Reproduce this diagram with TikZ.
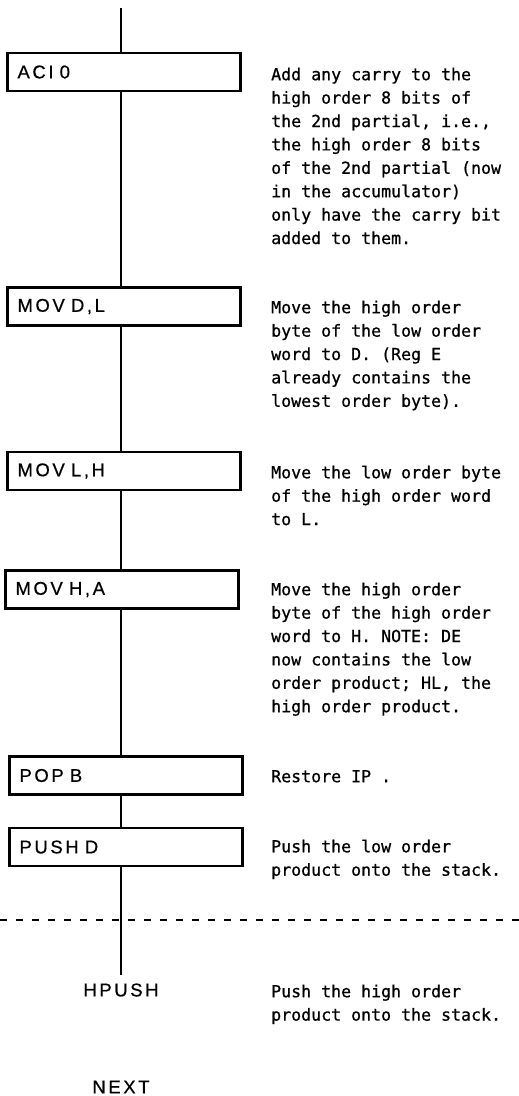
\documentclass[tikz,border=0pt]{standalone}
\usepackage{fontspec}
\newfontfamily\opfont[LetterSpace=14,FakeBold=0.6]{Liberation Sans}
\newfontfamily\notefont[FakeBold=0.8]{DejaVu Sans Mono}
\tikzset{
    opbox/.style={draw, line width=2.2pt, text width=213pt, inner xsep=10pt,
        inner ysep=0pt, minimum height=38pt, align=left,
        font=\opfont\fontsize{18.5}{22}\selectfont},
    oplabel/.style={inner sep=0pt, font=\opfont\fontsize{18.5}{22}\selectfont},
    note/.style={anchor=north west, inner sep=0pt, align=left,
        font=\notefont\fontsize{16.6}{23.4}\selectfont},
    spine/.style={line width=2.2pt},
    cut/.style={line width=1.8pt, dash pattern=on 7pt off 9pt}
}
\begin{document}
\begin{tikzpicture}[x=1pt,y=-1pt]
    \useasboundingbox (0,0) rectangle (519,1096);

    % Instruction boxes
    \node[opbox] (aci)   at (124,72)    {ACI 0};
    \node[opbox] (movdl) at (124,306.5) {MOV D,L};
    \node[opbox] (movlh) at (124,471)   {MOV L,H};
    \node[opbox] (movha) at (122,589.5) {MOV H,A};
    \node[opbox] (popb)  at (126,775.5) {POP B};
    \node[opbox] (pushd) at (126,847)   {PUSH D};

    % Exit labels below the cut
    \node[oplabel] (hpush) at (121,990)  {HPUSH};
    \node[oplabel] (next)  at (121,1087) {NEXT};

    % Flow line
    \coordinate (top) at (121,8);
    \coordinate (bot) at (121,975);
    \draw[spine] (top) -- (top |- aci.north);
    \draw[spine] (aci.south -| top) -- (movdl.north -| top);
    \draw[spine] (movdl.south -| top) -- (movlh.north -| top);
    \draw[spine] (movlh.south -| top) -- (movha.north -| top);
    \draw[spine] (movha.south -| top) -- (popb.north -| top);
    \draw[spine] (popb.south -| top) -- (pushd.north -| top);
    \draw[spine] (pushd.south -| top) -- (bot);

    % Dashed cut line
    \coordinate (cutl) at (0,920);
    \coordinate (cutr) at (519,920);
    \draw[cut] (cutl) -- (cutr);

    % Comments on the right
    \node[note] (acinote) at (271,67.4) {Add any carry to the\\high order 8 bits of\\the 2nd partial, i.e.,\\the high order 8 bits\\of the 2nd partial (now\\in the accumulator)\\only have the carry bit\\added to them.};
    \node[note] (movdlnote) at (271,300.4) {Move the high order\\byte of the low order\\word to D. (Reg E\\already contains the\\lowest order byte).};
    \node[note] (movlhnote) at (271,465.4) {Move the low order byte\\of the high order word\\to L.};
    \node[note] (movhanote) at (271,582.4) {Move the high order\\byte of the high order\\word to H. NOTE: DE\\now contains the low\\order product; HL, the\\high order product.};
    \node[note] (popbnote) at (271,769.9) {Restore IP .};
    \node[note] (pushdnote) at (271,839.4) {Push the low order\\product onto the stack.};
    \node[note] (hpushnote) at (271,984.4) {Push the high order\\product onto the stack.};
\end{tikzpicture}
\end{document}
